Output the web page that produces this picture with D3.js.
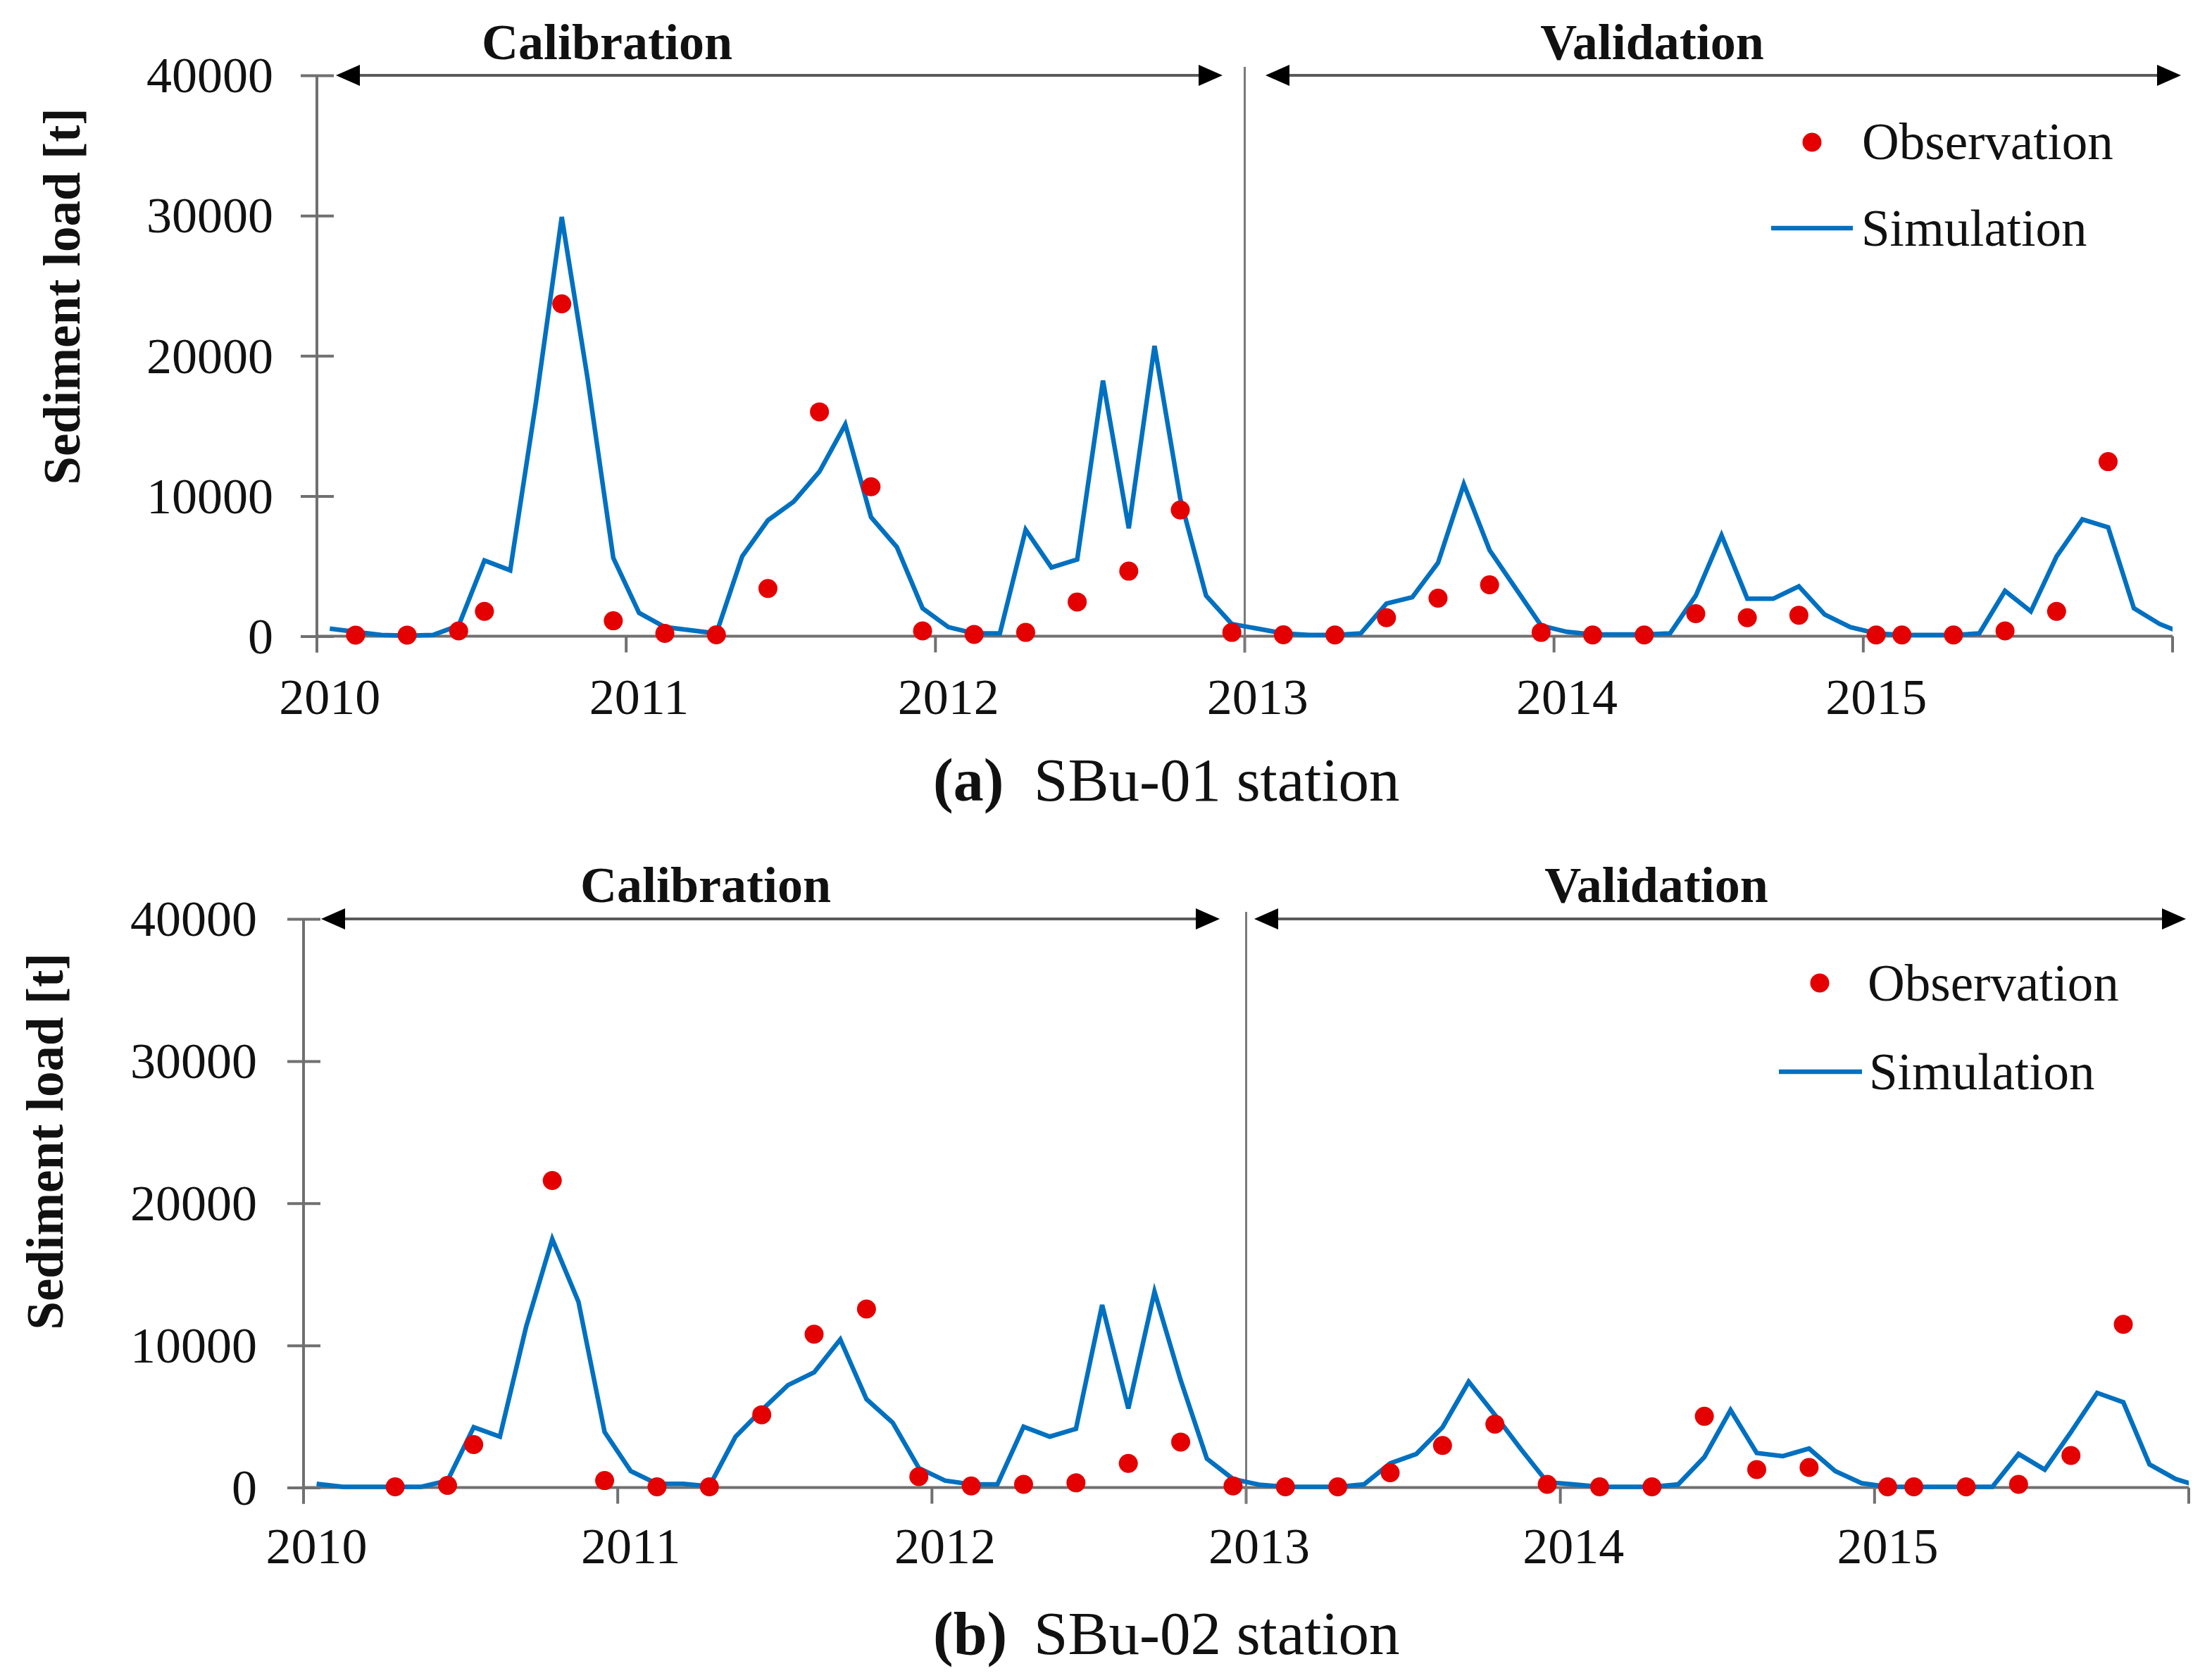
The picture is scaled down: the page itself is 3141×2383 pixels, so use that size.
<!DOCTYPE html>
<html>
<head>
<meta charset="utf-8">
<script src="https://cdn.jsdelivr.net/npm/d3@7"></script>
<style>
  html, body { margin: 0; padding: 0; background: #ffffff; }
  svg { display: block; }
</style>
</head>
<body>
<svg id="chart" width="3141" height="2383"></svg>
<script>
// ---------------- DATA ----------------
const yearLabels = ["2010", "2011", "2012", "2013", "2014", "2015"];
const yTickValues = [0, 10000, 20000, 30000, 40000];
const periodLabels = ["Calibration", "Validation"];
const legendLabels = ["Observation", "Simulation"];
const yAxisTitle = "Sediment load [t]";
const captionTags = ["(a)", "(b)"];
const captionTexts = ["SBu-01 station", "SBu-02 station"];

// Monthly simulated sediment load, index 0 = Jan 2010 ... 72 = Jan 2016
const simA = [540, 310, 90, 40, 90, 760, 5400, 4700, 16700, 29900,
              18400, 5580, 1660, 650, 425, 200, 5690, 8270, 9600, 11740,
              15100, 8490, 6360, 1990, 650, 200, 200, 7590, 4900, 5470,
              18230, 7700, 20700, 9800, 2890, 870, 540, 200, 90, 90,
              200, 2330, 2780, 5240, 10840, 6140, 3450, 760, 310, 130,
              130, 130, 200, 2890, 7200, 2670, 2670, 3560, 1550, 650,
              200, 90, 90, 90, 200, 3230, 1770, 5690, 8330, 7770,
              1990, 870, 130];
const obsMonthsA = [1, 3, 5, 6, 9, 11, 13, 15, 17, 19, 21, 23, 25, 27, 29, 31, 33, 35,
                    37, 39, 41, 43, 45, 47, 49, 51, 53, 55, 57, 60, 61, 63, 65, 67, 69];
const obsA = [80, 80, 380, 1770, 23700, 1100, 200, 100, 3400, 16000, 10660, 380, 130, 270,
              2440, 4640, 9000, 270, 100, 90, 1320, 2710, 3670, 270, 90, 90, 1610, 1320,
              1500, 90, 90, 90, 380, 1770, 12450];

const simB = [265, 50, 50, 50, 50, 490, 4240, 3580, 11300, 17480,
              13070, 3900, 1150, 265, 265, 90, 3580, 5450, 7200, 8100,
              10420, 6220, 4570, 1370, 490, 220, 220, 4280, 3580, 4130,
              12840, 5560, 13770, 7550, 2030, 600, 200, 50, 50, 50,
              220, 1700, 2360, 4240, 7440, 5120, 2690, 375, 220, 50,
              50, 50, 220, 2140, 5450, 2430, 2210, 2740, 1150, 310,
              50, 50, 50, 50, 50, 2360, 1260, 3900, 6660, 6000,
              1630, 600, 30];
const obsMonthsB = [3, 5, 6, 9, 11, 13, 15, 17, 19, 21, 23, 25, 27, 29, 31, 33, 35,
                    37, 39, 41, 43, 45, 47, 49, 51, 53, 55, 57, 60, 61, 63, 65, 67, 69];
const obsB = [50, 150, 3020, 21600, 490, 50, 50, 5120, 10790, 12560, 770, 110, 220, 330,
              1700, 3200, 110, 50, 50, 1040, 2960, 4460, 220, 50, 50, 5010, 1260, 1410,
              50, 50, 50, 220, 2250, 11480];

const monthsTotal = 72;     // axis spans 6 years of months
const splitMonth = 36;      // calibration / validation boundary (Jan 2013)

// ---------------- STYLE / LAYOUT ----------------
const SERIF = "'Liberation Serif', 'Times New Roman', serif";
const AXIS_COLOR = "#707070";
const TEXT_COLOR = "#111111";
const LINE_COLOR = "#0070C0";
const DOT_COLOR = "#E40000";

const panels = [
  { id: "a", sim: simA, obsM: obsMonthsA, obs: obsA, tag: captionTags[0], cap: captionTexts[0],
    x0: 450, x1: 3085, yBottom: 903.5, yTop: 107,
    titleY: 84, calX: 862, valX: 2346,
    calArrow: [477, 1736], valArrow: [1797, 3097], sepTop: 95,
    legDot: [2573, 202], legText: [2644, 226], legLine: [2515, 2631, 324], legText2: [2643, 349],
    yLabelRight: 388, yTitleX: 88, yTitleY: 421, xLabelY: 1014, capY: 1137 },
  { id: "b", sim: simB, obsM: obsMonthsB, obs: obsB, tag: captionTags[1], cap: captionTexts[1],
    x0: 431, x1: 3108, yBottom: 2112.5, yTop: 1305,
    titleY: 1281, calX: 1002, valX: 2352,
    calArrow: [456, 1732], valArrow: [1781, 3104], sepTop: 1295,
    legDot: [2584, 1396], legText: [2652, 1421], legLine: [2526, 2644, 1522], legText2: [2654, 1547],
    yLabelRight: 365, yTitleX: 64, yTitleY: 1621, xLabelY: 2220, capY: 2349 }
];

const svg = d3.select("#chart");
svg.append("rect").attr("width", 3141).attr("height", 2383).attr("fill", "#ffffff");

const defs = svg.append("defs");

function arrowHead(g, xTip, y, dir) {
  // dir = -1 points left, +1 points right
  const len = 34, half = 15;
  g.append("path")
    .attr("d", `M${xTip},${y} L${xTip - dir * len},${y - half} L${xTip - dir * len},${y + half} Z`)
    .attr("fill", "#000000");
}

panels.forEach((p, pi) => {
  const g = svg.append("g").attr("class", "panel-" + p.id);

  const x = d3.scaleLinear().domain([0, monthsTotal]).range([p.x0, p.x1]);
  const y = d3.scaleLinear().domain([0, 40000]).range([p.yBottom, p.yTop]);

  // clip for the simulation line (plot area)
  defs.append("clipPath").attr("id", "clip-" + p.id)
    .append("rect")
    .attr("x", p.x0).attr("y", p.yTop - 40)
    .attr("width", p.x1 - p.x0).attr("height", p.yBottom - p.yTop + 80);

  // ---- Y axis (crossing ticks) ----
  const yAxis = d3.axisLeft(y).tickValues(yTickValues).tickSize(0).tickFormat(d3.format("d"));
  const yAxisG = g.append("g").attr("transform", `translate(${p.x0},0)`).call(yAxis);
  yAxisG.select(".domain").remove();
  yAxisG.selectAll("text")
    .attr("x", p.yLabelRight - p.x0)
    .attr("dy", "0.33em")
    .attr("font-family", SERIF).attr("font-size", 72).attr("fill", TEXT_COLOR);
  yAxisG.selectAll(".tick").append("line")
    .attr("x1", -23).attr("x2", 24).attr("y1", 0).attr("y2", 0)
    .attr("stroke", AXIS_COLOR).attr("stroke-width", 4);
  // y axis line (extends down to the x tick length)
  g.append("line")
    .attr("x1", p.x0).attr("x2", p.x0)
    .attr("y1", y(40000)).attr("y2", y(0) + 23)
    .attr("stroke", AXIS_COLOR).attr("stroke-width", 4);

  // ---- X axis ----
  g.append("line")
    .attr("x1", p.x0).attr("x2", p.x1)
    .attr("y1", y(0)).attr("y2", y(0))
    .attr("stroke", AXIS_COLOR).attr("stroke-width", 4);
  const yearTickMonths = d3.range(0, monthsTotal + 1, 12);
  g.selectAll(".xtick").data(yearTickMonths).join("line")
    .attr("class", "xtick")
    .attr("x1", d => x(d)).attr("x2", d => x(d))
    .attr("y1", y(0)).attr("y2", y(0) + 23)
    .attr("stroke", AXIS_COLOR).attr("stroke-width", 4);
  g.selectAll(".xlabel").data(yearLabels).join("text")
    .attr("class", "xlabel")
    .attr("x", (d, i) => x(i * 12 + 0.5))
    .attr("y", p.xLabelY)
    .attr("text-anchor", "middle")
    .attr("font-family", SERIF).attr("font-size", 72).attr("fill", TEXT_COLOR)
    .text(d => d);

  // ---- Calibration / Validation separator ----
  g.append("line")
    .attr("x1", x(splitMonth)).attr("x2", x(splitMonth))
    .attr("y1", p.sepTop).attr("y2", y(0) + 23)
    .attr("stroke", "#7a7a7a").attr("stroke-width", 3);

  // ---- Period arrows ----
  const ay = y(40000);
  [p.calArrow, p.valArrow].forEach(a => {
    g.append("line")
      .attr("x1", a[0] + 10).attr("x2", a[1] - 10)
      .attr("y1", ay).attr("y2", ay)
      .attr("stroke", "#5a5a5a").attr("stroke-width", 4);
    arrowHead(g, a[0], ay, -1);
    arrowHead(g, a[1], ay, 1);
  });
  g.selectAll(".period").data(periodLabels).join("text")
    .attr("class", "period")
    .attr("x", (d, i) => i === 0 ? p.calX : p.valX)
    .attr("y", p.titleY)
    .attr("text-anchor", "middle")
    .attr("font-family", SERIF).attr("font-weight", "bold").attr("font-size", 72)
    .attr("fill", TEXT_COLOR)
    .text(d => d);

  // ---- Y axis title ----
  g.append("text")
    .attr("transform", `translate(${p.yTitleX},${p.yTitleY}) rotate(-90)`)
    .attr("text-anchor", "middle")
    .attr("dominant-baseline", "central")
    .attr("font-family", SERIF).attr("font-weight", "bold").attr("font-size", 73)
    .attr("fill", TEXT_COLOR)
    .text(yAxisTitle);

  // ---- Simulation line ----
  const line = d3.line()
    .x((d, i) => x(i + 0.5))
    .y(d => y(d));
  g.append("path")
    .datum(p.sim)
    .attr("d", line)
    .attr("clip-path", `url(#clip-${p.id})`)
    .attr("fill", "none")
    .attr("stroke", LINE_COLOR)
    .attr("stroke-width", 6.5)
    .attr("stroke-linejoin", "miter")
    .attr("stroke-miterlimit", 4);

  // ---- Observations ----
  g.selectAll(".obs").data(p.obs).join("circle")
    .attr("class", "obs")
    .attr("cx", (d, i) => x(p.obsM[i] + 0.5))
    .attr("cy", d => y(d))
    .attr("r", 13.5)
    .attr("fill", DOT_COLOR);

  // ---- Legend ----
  g.append("circle")
    .attr("cx", p.legDot[0]).attr("cy", p.legDot[1]).attr("r", 13.5)
    .attr("fill", DOT_COLOR);
  g.append("text")
    .attr("x", p.legText[0]).attr("y", p.legText[1])
    .attr("font-family", SERIF).attr("font-size", 73).attr("fill", TEXT_COLOR)
    .text(legendLabels[0]);
  g.append("line")
    .attr("x1", p.legLine[0]).attr("x2", p.legLine[1])
    .attr("y1", p.legLine[2]).attr("y2", p.legLine[2])
    .attr("stroke", LINE_COLOR).attr("stroke-width", 6.5);
  g.append("text")
    .attr("x", p.legText2[0]).attr("y", p.legText2[1])
    .attr("font-family", SERIF).attr("font-size", 73).attr("fill", TEXT_COLOR)
    .text(legendLabels[1]);

  // ---- Caption ----
  g.append("text")
    .attr("x", 1325).attr("y", p.capY)
    .attr("font-family", SERIF).attr("font-weight", "bold").attr("font-size", 86)
    .attr("fill", TEXT_COLOR)
    .text(p.tag);
  g.append("text")
    .attr("x", 1468).attr("y", p.capY)
    .attr("font-family", SERIF).attr("font-size", 87)
    .attr("fill", TEXT_COLOR)
    .text(p.cap);
});
</script>
</body>
</html>
